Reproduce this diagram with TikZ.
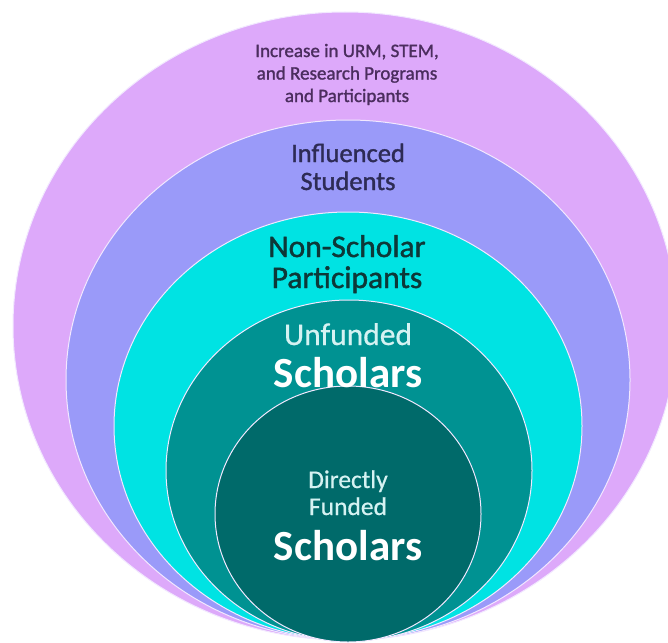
\documentclass[tikz,border=0pt]{standalone}
\usepackage{fontspec}
\setmainfont{Carlito}
\newfontfamily\semib[FakeBold=1.3]{Carlito}
\newfontfamily\semibl[FakeBold=0.6]{Carlito}
\usetikzlibrary{shapes.geometric}
\definecolor{lav}{HTML}{DDA9FA}
\definecolor{blu}{HTML}{9A9AF9}
\definecolor{cya}{HTML}{00E3E3}
\definecolor{tea}{HTML}{009292}
\definecolor{dte}{HTML}{006A6A}
\definecolor{txtA}{HTML}{4B2D5E}
\definecolor{txtB}{HTML}{2D2B55}
\definecolor{txtC}{HTML}{0D3838}
\definecolor{txtD}{HTML}{D5F2F2}
\definecolor{rim}{HTML}{F2E8FF}
\tikzset{
  layer/.style={ellipse, draw=rim, line width=1pt, inner sep=0pt},
  lbl/.style={anchor=base, inner sep=0pt, align=center},
}
\begin{document}
\begin{tikzpicture}[x=1pt,y=-1pt]
\useasboundingbox (0,0) rectangle (668,642);
\clip (0,0) rectangle (668,642);
\fill[white] (0,0) rectangle (668,642);
\node[layer, fill=lav, minimum width=664pt, minimum height=628pt] (l1) at (345,326) {};
\node[layer, fill=blu, minimum width=564pt, minimum height=520pt] (l2) at (348,380) {};
\node[layer, fill=cya, minimum width=468pt, minimum height=428pt] (l3) at (348,426) {};
\node[layer, fill=tea, minimum width=366pt, minimum height=341pt] (l4) at (349,470.5) {};
\node[layer, fill=dte, minimum width=266pt, minimum height=256pt] (l5) at (348,514) {};
% texts
\node[lbl, text=txtA, font=\semib\fontsize{19}{21}\selectfont] (t1a) at (347,57) {Increase in URM, STEM,};
\node[lbl, text=txtA, font=\semib\fontsize{19}{21}\selectfont] (t1b) at (347,79.5) {and Research Programs};
\node[lbl, text=txtA, font=\semib\fontsize{19}{21}\selectfont] (t1c) at (347,102) {and Participants};
\node[lbl, text=txtB, font=\semib\fontsize{26.5}{28}\selectfont] (t2a) at (348,162) {Influenced};
\node[lbl, text=txtB, font=\semib\fontsize{26.5}{28}\selectfont] (t2b) at (348,190) {Students};
\node[lbl, text=txtC, font=\semib\fontsize{31.5}{33}\selectfont] (t3a) at (347,257) {Non-Scholar};
\node[lbl, text=txtC, font=\semib\fontsize{31.5}{33}\selectfont] (t3b) at (347,288) {Participants};
\node[lbl, text=txtD, font=\semibl\fontsize{31.5}{33}\selectfont] (t4a) at (348,345) {Unfunded};
\node[lbl, text=white, font=\fontsize{43}{45}\selectfont\bfseries] (t4b) at (348,387) {Scholars};
\node[lbl, text=txtD, font=\semibl\fontsize{25.5}{27}\selectfont] (t5a) at (348,488) {Directly};
\node[lbl, text=txtD, font=\semibl\fontsize{25.5}{27}\selectfont] (t5b) at (348,515) {Funded};
\node[lbl, text=white, font=\fontsize{43}{45}\selectfont\bfseries] (t5c) at (348,560) {Scholars};
\end{tikzpicture}
\end{document}
